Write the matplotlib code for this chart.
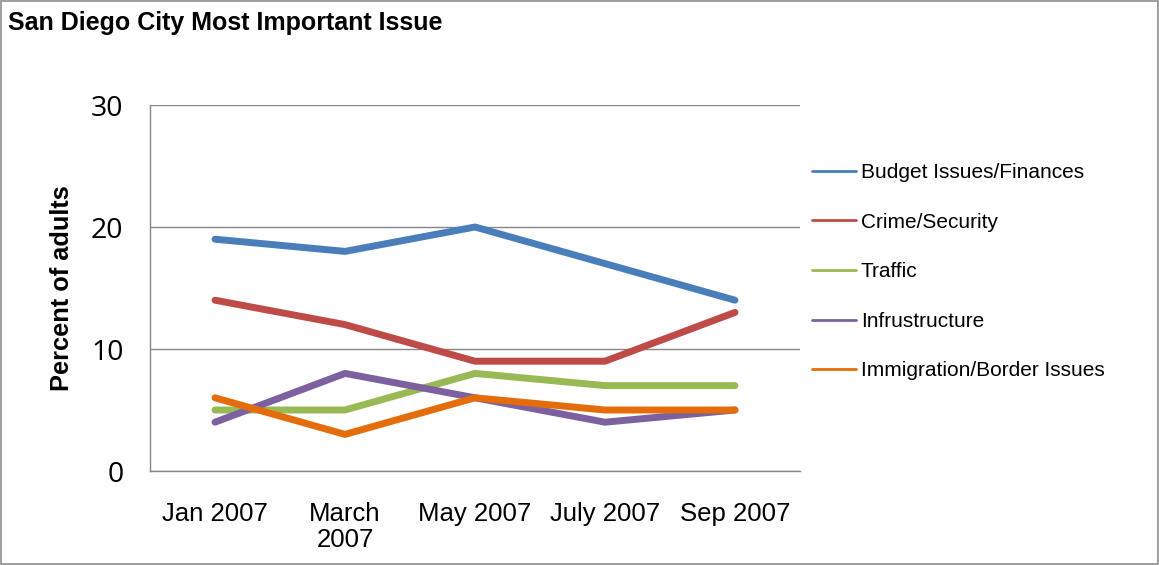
import matplotlib.pyplot as plt
from matplotlib.patches import Rectangle

meses = ["Jan 2007", "March\n2007", "May 2007", "July 2007", "Sep 2007"]
budget = [19, 18, 20, 17, 14]
crime = [14, 12, 9, 9, 13]
traffic = [5, 5, 8, 7, 7]
infra = [4, 8, 6, 4, 5]
immigration = [6, 3, 6, 5, 5]

series = [
    ("Budget Issues/Finances", budget, "#4A7EBB"),
    ("Crime/Security", crime, "#BE4B48"),
    ("Traffic", traffic, "#98B954"),
    ("Infrustructure", infra, "#7D60A0"),
    ("Immigration/Border Issues", immigration, "#E46C0A"),
]

fig = plt.figure(figsize=(11.59, 5.65), dpi=100)
ax = fig.add_axes([150 / 1159, 1 - 471 / 565, 650 / 1159, 366 / 565])

x = list(range(len(meses)))
for nombre, vals, color in series:
    ax.plot(x, vals, color=color, lw=5, solid_capstyle="round",
            solid_joinstyle="round", label=nombre)

ax.set_xlim(-0.5, len(meses) - 0.5)
ax.set_ylim(0, 30)
ax.set_yticks([0, 10, 20, 30])
ax.set_xticks(x)
ax.set_xticklabels(meses, fontsize=18.5, family="Liberation Sans", linespacing=1.12)
for t in ax.get_yticklabels():
    t.set_fontsize(20.5)
    t.set_family("Open Sans")
ax.tick_params(length=0)
ax.tick_params(axis="x", pad=22)
ax.tick_params(axis="y", pad=19)
ax.grid(axis="y", color="#868686", lw=1)
ax.set_axisbelow(True)
for s in ["top", "right"]:
    ax.spines[s].set_visible(False)
for s in ["left", "bottom"]:
    ax.spines[s].set_color("#868686")
    ax.spines[s].set_linewidth(1)

ax.set_ylabel("Percent of adults", fontsize=18.3, fontweight="bold",
              family="Liberation Sans", labelpad=12)

leg = ax.legend(loc="upper left", bbox_to_anchor=(812 / 1159, 1 - 163 / 565),
                bbox_transform=fig.transFigure, frameon=False,
                prop={"family": "Liberation Sans", "size": 15},
                handlelength=2.1, handletextpad=0.25, labelspacing=1.47,
                borderpad=0, borderaxespad=0)
for h in leg.legend_handles:
    h.set_linewidth(2)

fig.text(8 / 1159, 1 - 23 / 565, "San Diego City Most Important Issue",
         fontsize=18, fontweight="bold", family="Liberation Sans",
         va="center", ha="left")

fig.patches.append(Rectangle((0.001, 0.001), 0.998, 0.997, transform=fig.transFigure,
                             fill=False, edgecolor="#8c8c8c", lw=1.2))

fig.savefig("out.png", dpi=100)
